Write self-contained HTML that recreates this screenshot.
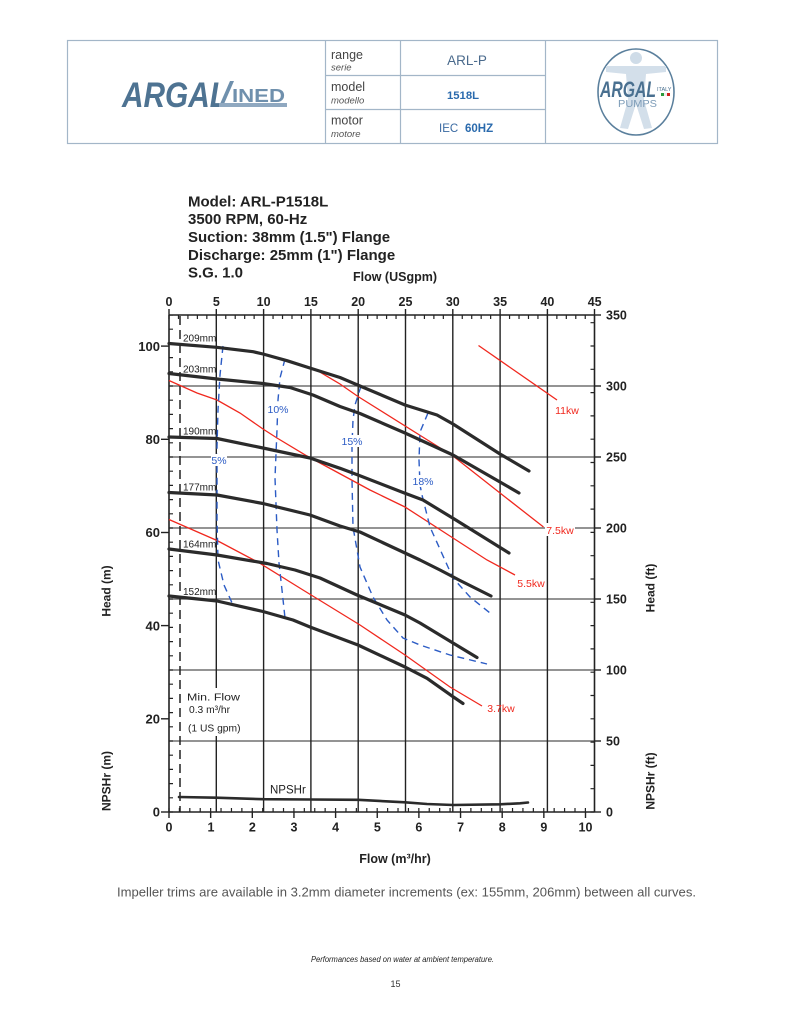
<!DOCTYPE html>
<html><head><meta charset="utf-8"><style>
html,body{margin:0;padding:0;background:#fff;}
svg{display:block;}
</style></head><body>
<svg width="791" height="1024" viewBox="0 0 791 1024" xmlns="http://www.w3.org/2000/svg" font-family="'Liberation Sans', Arial, sans-serif">
<rect width="791" height="1024" fill="#fff"/>

<!-- Header box -->
<g stroke="#a3b6c8" stroke-width="1.2" fill="none">
<rect x="67.5" y="40.5" width="650" height="103"/>
<line x1="325.5" y1="40.5" x2="325.5" y2="143.5"/>
<line x1="400.5" y1="40.5" x2="400.5" y2="143.5"/>
<line x1="545.5" y1="40.5" x2="545.5" y2="143.5"/>
<line x1="325.5" y1="75.5" x2="545.5" y2="75.5"/>
<line x1="325.5" y1="109.5" x2="545.5" y2="109.5"/>
</g>
<!-- left logo -->
<text x="122" y="107" font-size="35" font-weight="bold" font-style="italic" fill="#4e7392" textLength="106" lengthAdjust="spacingAndGlyphs">ARGAL</text>
<polygon points="230,81 234,81 224,104 220,104" fill="#6f90ad"/>
<rect x="219" y="103" width="68" height="4" fill="#8fa8c0"/>
<text x="232" y="102" font-size="18.5" font-weight="bold" fill="#6f90ad" textLength="53" lengthAdjust="spacingAndGlyphs">INED</text>
<!-- labels -->
<text x="331" y="59" font-size="12.5" fill="#444">range</text>
<text x="331" y="70.5" font-size="9.5" font-style="italic" fill="#555">serie</text>
<text x="331" y="91" font-size="12.5" fill="#444">model</text>
<text x="331" y="103.5" font-size="9.5" font-style="italic" fill="#555">modello</text>
<text x="331" y="124.5" font-size="12.5" fill="#444">motor</text>
<text x="331" y="137" font-size="9.5" font-style="italic" fill="#555">motore</text>
<text x="467" y="65" font-size="13.5" fill="#4a6a8c" text-anchor="middle">ARL-P</text>
<text x="463" y="99" font-size="11.3" font-weight="bold" fill="#2a6aad" text-anchor="middle">1518L</text>
<text x="439" y="132" font-size="11.5" fill="#3a6aa2">IEC</text>
<text x="465" y="132" font-size="11.5" font-weight="bold" fill="#2a6aad">60HZ</text>
<!-- right logo -->
<g>
<ellipse cx="636" cy="92" rx="38" ry="43" fill="#fff" stroke="#5a7f9c" stroke-width="1.6"/>
<circle cx="636" cy="58" r="6" fill="#cfdce8"/>
<path d="M606,66 L666,66 L666,72 L646,74 L644,100 L652,128 L644,129 L636,104 L628,129 L620,128 L628,100 L626,74 L606,72 Z" fill="#d3dfea"/>
<text x="600" y="97" font-size="22" font-weight="bold" font-style="italic" fill="#4a7090" textLength="56" lengthAdjust="spacingAndGlyphs">ARGAL</text>
<text x="657" y="91" font-size="5.5" fill="#4a7090">ITALY</text>
<rect x="661" y="93" width="3" height="3" fill="#2a9a3a"/><rect x="664" y="93" width="3" height="3" fill="#eee"/><rect x="667" y="93" width="3" height="3" fill="#d02020"/>
<text x="618" y="107" font-size="10" fill="#7d9cb8" textLength="39" lengthAdjust="spacingAndGlyphs">PUMPS</text>
</g>

<!-- Title block -->
<g font-size="15" font-weight="bold" fill="#222">
<text x="188" y="206.5">Model: ARL-P1518L</text>
<text x="188" y="224">3500 RPM, 60-Hz</text>
<text x="188" y="242">Suction: 38mm (1.5") Flange</text>
<text x="188" y="260">Discharge: 25mm (1") Flange</text>
<text x="188" y="277.5">S.G. 1.0</text>
</g>
<text x="395" y="281" font-size="12.5" font-weight="bold" fill="#222" text-anchor="middle">Flow (USgpm)</text>

<!-- top labels -->
<g font-size="12.5" font-weight="bold" fill="#222" text-anchor="middle">
<text x="169" y="306">0</text><text x="216.3" y="306">5</text><text x="263.6" y="306">10</text><text x="310.9" y="306">15</text><text x="358.2" y="306">20</text><text x="405.5" y="306">25</text><text x="452.8" y="306">30</text><text x="500.1" y="306">35</text><text x="547.4" y="306">40</text><text x="594.7" y="306">45</text>
</g>

<!-- horizontal grid -->
<g stroke="#555" stroke-width="1.3">
<line x1="169" y1="386" x2="594.5" y2="386"/>
<line x1="169" y1="457" x2="594.5" y2="457"/>
<line x1="169" y1="528" x2="594.5" y2="528"/>
<line x1="169" y1="599" x2="594.5" y2="599"/>
<line x1="169" y1="670" x2="594.5" y2="670"/>
<line x1="169" y1="741" x2="594.5" y2="741"/>
</g>
<!-- vertical grid -->
<g stroke="#222" stroke-width="1.4">
<line x1="216.3" y1="315" x2="216.3" y2="812"/>
<line x1="263.6" y1="315" x2="263.6" y2="812"/>
<line x1="310.9" y1="315" x2="310.9" y2="812"/>
<line x1="358.2" y1="315" x2="358.2" y2="812"/>
<line x1="405.5" y1="315" x2="405.5" y2="812"/>
<line x1="452.8" y1="315" x2="452.8" y2="812"/>
<line x1="500.1" y1="315" x2="500.1" y2="812"/>
<line x1="547.4" y1="315" x2="547.4" y2="812"/>
</g>
<!-- axes frame -->
<g stroke="#222" stroke-width="1.6" fill="none">
<line x1="169" y1="315" x2="594.5" y2="315"/>
<line x1="169" y1="812" x2="594.5" y2="812"/>
<line x1="169" y1="315" x2="169" y2="812"/>
<line x1="594.5" y1="315" x2="594.5" y2="812"/>
</g>
<!-- minor ticks via dashes -->
<g stroke="#222" fill="none">
<line x1="168.4" y1="317" x2="595" y2="317" stroke-width="4" stroke-dasharray="1.2,8.26"/>
<line x1="171" y1="812.6" x2="171" y2="315" stroke-width="4" stroke-dasharray="1.2,13"/>
<line x1="592.5" y1="812.6" x2="592.5" y2="315" stroke-width="4" stroke-dasharray="1.2,22.1"/>
<line x1="168.4" y1="810" x2="595" y2="810" stroke-width="4" stroke-dasharray="1.2,9.21"/>
</g>
<!-- major ticks -->
<g stroke="#222" stroke-width="1.4">
<line x1="169" y1="309" x2="169" y2="315"/><line x1="216.3" y1="309" x2="216.3" y2="315"/><line x1="263.6" y1="309" x2="263.6" y2="315"/><line x1="310.9" y1="309" x2="310.9" y2="315"/><line x1="358.2" y1="309" x2="358.2" y2="315"/><line x1="405.5" y1="309" x2="405.5" y2="315"/><line x1="452.8" y1="309" x2="452.8" y2="315"/><line x1="500.1" y1="309" x2="500.1" y2="315"/><line x1="547.4" y1="309" x2="547.4" y2="315"/><line x1="594.5" y1="309" x2="594.5" y2="315"/>
<line x1="161" y1="346.1" x2="169" y2="346.1"/><line x1="161" y1="439.3" x2="169" y2="439.3"/><line x1="161" y1="532.5" x2="169" y2="532.5"/><line x1="161" y1="625.6" x2="169" y2="625.6"/><line x1="161" y1="718.8" x2="169" y2="718.8"/><line x1="161" y1="812" x2="169" y2="812"/>
<line x1="594.5" y1="315" x2="601" y2="315"/><line x1="594.5" y1="386" x2="601" y2="386"/><line x1="594.5" y1="457" x2="601" y2="457"/><line x1="594.5" y1="528" x2="601" y2="528"/><line x1="594.5" y1="599" x2="601" y2="599"/><line x1="594.5" y1="670" x2="601" y2="670"/><line x1="594.5" y1="741" x2="601" y2="741"/><line x1="594.5" y1="812" x2="601" y2="812"/>
<line x1="169" y1="812" x2="169" y2="818"/><line x1="210.65" y1="812" x2="210.65" y2="818"/><line x1="252.3" y1="812" x2="252.3" y2="818"/><line x1="293.95" y1="812" x2="293.95" y2="818"/><line x1="335.6" y1="812" x2="335.6" y2="818"/><line x1="377.25" y1="812" x2="377.25" y2="818"/><line x1="418.9" y1="812" x2="418.9" y2="818"/><line x1="460.55" y1="812" x2="460.55" y2="818"/><line x1="502.2" y1="812" x2="502.2" y2="818"/><line x1="543.85" y1="812" x2="543.85" y2="818"/><line x1="585.5" y1="812" x2="585.5" y2="818"/>
</g>

<!-- min flow dashed line -->
<line x1="180" y1="316" x2="180" y2="812" stroke="#222" stroke-width="1.5" stroke-dasharray="9,5"/>

<!-- left labels -->
<g font-size="13" font-weight="bold" fill="#222" text-anchor="end">
<text x="160" y="350.8">100</text><text x="160" y="444">80</text><text x="160" y="537.2">60</text><text x="160" y="630.3">40</text><text x="160" y="723.5">20</text><text x="160" y="816.7">0</text>
</g>
<!-- right labels -->
<g font-size="12.5" font-weight="bold" fill="#222">
<text x="606" y="319.5">350</text><text x="606" y="390.5">300</text><text x="606" y="461.5">250</text><text x="606" y="532.5">200</text><text x="606" y="603.5">150</text><text x="606" y="674.5">100</text><text x="606" y="745.5">50</text><text x="606" y="816.5">0</text>
</g>
<!-- bottom labels -->
<g font-size="12.5" font-weight="bold" fill="#222" text-anchor="middle">
<text x="169" y="831.5">0</text><text x="211" y="831.5">1</text><text x="252.3" y="831.5">2</text><text x="294" y="831.5">3</text><text x="335.6" y="831.5">4</text><text x="377.3" y="831.5">5</text><text x="418.9" y="831.5">6</text><text x="460.6" y="831.5">7</text><text x="502.2" y="831.5">8</text><text x="543.9" y="831.5">9</text><text x="585.5" y="831.5">10</text>
</g>
<text x="395" y="863" font-size="12.5" font-weight="bold" fill="#222" text-anchor="middle">Flow (m³/hr)</text>

<!-- axis titles -->
<g font-size="12" font-weight="bold" fill="#222" text-anchor="middle">
<text transform="translate(110.3,591) rotate(-90)">Head (m)</text>
<text transform="translate(110.3,781) rotate(-90)">NPSHr (m)</text>
<text transform="translate(654.5,588) rotate(-90)">Head (ft)</text>
<text transform="translate(654.5,781) rotate(-90)">NPSHr (ft)</text>
</g>

<!-- red power lines -->
<g stroke="#f0281e" stroke-width="1.3" fill="none">
<path d="M478.5,345.5 L557,400"/>
<path d="M313,368 L340,384 L358,396.5 L453,456 L500,493 L543.5,527"/>
<path d="M169,380.5 L197,393 L217,400 L240,413 L263,429 L277,438 L307,456 L333,470 L370,490 L405,507 L453,538 L487,560 L515,575"/>
<path d="M169,519.5 L217,540.5 L260,563.3 L303,590 L360,625 L405,655 L450,687 L482,706"/>
</g>

<!-- blue efficiency dashed -->
<g stroke="#2c5cc5" stroke-width="1.4" fill="none" stroke-dasharray="7,5">
<path d="M223,346 L220,375 L218,410 L217,447 L217,520 L218,560 L224,585 L233,605"/>
<path d="M285,359 L280,378 L278,400 L277,430 L275,478 L277,530 L279,563 L282,590 L285,618"/>
<path d="M361,386 L355,405 L353,420 L352,445 L352,480 L353,527 L360,567 L373,597 L387,620 L403,638 L420,645 L450,655 L487,664"/>
<path d="M428,413 L420,432 L419,460 L420,485 L422,495 L430,527 L448,567 L453,578 L470,597 L490,613"/>
</g>

<!-- black head curves -->
<g stroke="#2b2b2b" stroke-width="3.2" fill="none" stroke-linejoin="round" stroke-linecap="round">
<path d="M169,343.5 L216.7,347.3 L253,351.7 L263,354 L287,360.7 L313,369 L340,377.5 L360,386 L405,405 L437,415 L453,424 L500,454 L529,471"/>
<path d="M169,373.5 L217,379 L263,383.5 L290,387.5 L313,395 L340,406.5 L360,413.5 L405,433 L453,455 L500,482 L519,493"/>
<path d="M169,437 L217,438.5 L263,448 L310,458 L340,468.3 L358,475 L405,493.3 L423,500 L453,518.3 L480,535 L509,553"/>
<path d="M169,492.5 L217,495 L263,503.5 L310,515 L340,526 L360,532 L405,553 L420,560 L440,570 L460,580.5 L491,596"/>
<path d="M169,549 L217,555 L267,563.5 L295,570 L320,578 L357,595 L405,615 L420,623 L453,643 L477,657.5"/>
<path d="M169,596 L217,601 L263,611.5 L293,620 L310,627 L358,645 L405,667 L427,678.3 L453,696.7 L463,703.5"/>
</g>
<path d="M179,797 L216,797.7 L263,799.2 L310,799.5 L358,799.8 L405,802.3 L427,804 L453,805 L500,804.3 L520,803.3 L528,802.5" stroke="#2b2b2b" stroke-width="2.6" fill="none" stroke-linecap="round"/>

<!-- impeller labels -->
<g font-size="10" fill="#222">
<text x="183" y="341.6">209mm</text>
<text x="183" y="372.6">203mm</text>
<text x="183" y="434.6">190mm</text>
<text x="183" y="490.6">177mm</text>
<text x="183" y="547.6">164mm</text>
<text x="183" y="595">152mm</text>
</g>

<!-- efficiency labels -->
<g fill="#fff">
<rect x="211" y="454" width="16" height="12"/>
<rect x="267" y="403" width="22" height="12"/>
<rect x="341" y="435" width="22" height="12"/>
<rect x="412" y="475" width="22" height="12"/>
</g>
<g font-size="10.5" fill="#2c5cc5" text-anchor="middle">
<text x="219" y="463.8">5%</text>
<text x="278" y="412.8">10%</text>
<text x="352" y="444.8">15%</text>
<text x="423" y="484.8">18%</text>
</g>

<!-- power labels -->
<g fill="#fff">
<rect x="545" y="523" width="30" height="13"/>
</g>
<g font-size="10.5" fill="#f0281e" text-anchor="middle">
<text x="567" y="413.8">11kw</text>
<text x="560" y="533.8">7.5kw</text>
<text x="531" y="586.8">5.5kw</text>
<text x="501" y="711.8">3.7kw</text>
</g>

<!-- min flow text -->
<rect x="183" y="688" width="62" height="48" fill="#fff"/>
<g font-size="10.5" fill="#222">
<text x="187" y="700.5" textLength="53" lengthAdjust="spacingAndGlyphs">Min. Flow</text>
<text x="189" y="713" textLength="41" lengthAdjust="spacingAndGlyphs">0.3 m³/hr</text>
<text x="188" y="731.5" textLength="52.5" lengthAdjust="spacingAndGlyphs">(1 US gpm)</text>
</g>
<text x="270" y="793.5" font-size="11.5" fill="#222">NPSHr</text>

<!-- footer -->
<text x="117" y="896.5" font-size="13" fill="#555" textLength="579" lengthAdjust="spacingAndGlyphs">Impeller trims are available in 3.2mm diameter increments (ex: 155mm, 206mm) between all curves.</text>
<text x="311" y="962" font-size="8" font-style="italic" fill="#222" textLength="183" lengthAdjust="spacingAndGlyphs">Performances based on water at ambient temperature.</text>
<text x="395.5" y="987" font-size="9" fill="#333" text-anchor="middle">15</text>
</svg>
</body></html>
